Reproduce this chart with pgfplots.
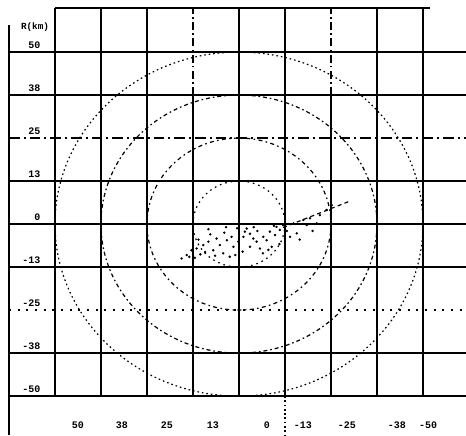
\documentclass[border=0pt]{standalone}
\usepackage{fontspec}
\setmainfont{Liberation Mono}
\usepackage{pgfplots}
\pgfplotsset{compat=1.18}
\begin{document}
\begin{tikzpicture}
\useasboundingbox (-6.75pt,0pt) rectangle (342.75pt,326.25pt);
\begin{axis}[
  scale only axis, width=342.75pt, height=320.25pt,
  x dir=reverse,
  xmin=-61.7, xmax=62.5, ymin=-61.3, ymax=62.8,
  axis line style={draw=none},
  xtick={43.75,31.8,19.6,7.1,-7.6,-17.4,-29.3,-42.9,-51.4},
  xticklabels={50,38,25,13,0,-13,-25,-38,-50},
  ytick={-50,-37.5,-25,-12.5,0,12.5,25,37.5,50},
  yticklabels={-50,-38,-25,-13,0,13,25,38,50},
  minor ytick={-50,-37.5,-12.5,0,12.5,37.5,50},
  yminorgrids=true,
  minor grid style={black, line width=1.1pt},
  major tick length=0pt, minor tick length=0pt,
  tick label style={font=\fontsize{7.5}{8}\selectfont\bfseries},
  xticklabel style={anchor=south, yshift=1.5pt},
  yticklabel style={anchor=south east, xshift=27pt, yshift=-1pt},
  clip=false,
]
\draw[line width=1.3pt] (rel axis cs:0,0) -- (rel axis cs:0,0.96);
\draw[line width=1.3pt] (axis cs:50,62.8) -- (axis cs:-52,62.8);
\foreach \xx in {50,37.5,25,0,-12.5,-37.5,-50} {
  \edef\tmp{\noexpand\draw[black, line width=1.1pt] (axis cs:\xx,-50) -- (axis cs:\xx,62.8);}
  \tmp
}
\draw[black, line width=1.1pt] (axis cs:12.5,-50) -- (axis cs:12.5,37.5);
\draw[black, line width=1.1pt, dash pattern=on 6pt off 2.5pt on 1.2pt off 2.5pt] (axis cs:12.5,37.5) -- (axis cs:12.5,62.8);
\draw[black, line width=1.1pt] (axis cs:-25,-50) -- (axis cs:-25,37.5);
\draw[black, line width=1.1pt, dash pattern=on 6pt off 2.5pt on 1.2pt off 2.5pt] (axis cs:-25,37.5) -- (axis cs:-25,62.8);
\draw[black, line width=0.9pt, dash pattern=on 1.2pt off 2pt] (axis cs:-12.5,-50) -- (axis cs:-12.5,-61.3);
\draw[black, line width=1.1pt, dash pattern=on 8pt off 3pt on 1.5pt off 3pt] (axis cs:62.5,25) -- (axis cs:-61.7,25);
\draw[black, line width=1.1pt, dash pattern=on 1.5pt off 5pt] (axis cs:62.5,-25) -- (axis cs:-61.7,-25);
\draw[line width=0.9pt, dash pattern=on 1.2pt off 2.2pt] (axis cs:0,0) ellipse [x radius=50, y radius=50];
\draw[line width=0.9pt, dash pattern=on 1.2pt off 2.2pt on 3pt off 2.2pt] (axis cs:0,0) ellipse [x radius=37.5, y radius=37.5];
\draw[line width=0.9pt, dash pattern=on 3pt off 2.5pt on 1.2pt off 2.5pt] (axis cs:0,0) ellipse [x radius=25, y radius=25];
\draw[line width=0.9pt, dash pattern=on 1.2pt off 3pt] (axis cs:0,0) ellipse [x radius=12.5, y radius=12.5];
\node[font=\fontsize{7}{8}\selectfont\bfseries] at (rel axis cs:0.057,0.955) {R(km)};
\addplot[only marks, mark=*, mark size=0.7pt, black] coordinates {
(15.6,-10.0) (14.2,-9.0) (12.9,-7.6) (11.5,-7.1) (9.7,-6.1) (8.3,-5.1)
(9.2,-8.1) (7.0,-7.6) (6.1,-4.2) (5.2,-6.1) (4.3,-8.5) (3.3,-4.7)
(2.0,-3.7) (1.5,-6.6) (0.2,-5.1) (-1.2,-3.7) (-1.6,-2.2) (-2.1,-1.3)
(-3.0,-6.6) (-3.9,-4.2) (-4.8,-5.1) (-5.7,-7.1) (-6.6,-3.7) (-7.5,-4.7)
(-8.4,-2.2) (-8.9,-6.6) (-9.8,-3.2) (-10.2,-0.8) (-11.1,-1.7) (-12.0,-0.3)
(-12.5,-4.2) (-13.9,-3.7) (-14.8,0.2) (-15.7,-2.7) (-17.5,1.2) (-18.4,-0.3)
(-19.3,1.7) (-21.1,0.2) (-22.0,2.6) (-23.8,4.1) (-25.2,5.5)
(8.3,-1.5) (3.5,-0.9) (0.5,-1.2) (-4.0,-0.9) (-9.5,-0.5)
(13.5,-9.5) (10.5,-8.8) (6.5,-9.2) (2.5,-9.5) (-1.0,-8.0) (-6.5,-8.5)
(11.0,-4.5) (4.0,-2.5) (-3.0,-2.8) (-11.0,-5.8) (-16.5,-4.5) (-20.0,-2.0)
(12.0,-9.8) (7.8,-3.0) (1.0,-9.0) (-5.0,-2.0) (-8.0,-7.5) (-13.0,-2.0)
};
\addplot[black, line width=0.9pt, dash pattern=on 3pt off 2.5pt] coordinates {(-12,-1.0) (-30.2,6.7)};
\end{axis}
\end{tikzpicture}
\end{document}
